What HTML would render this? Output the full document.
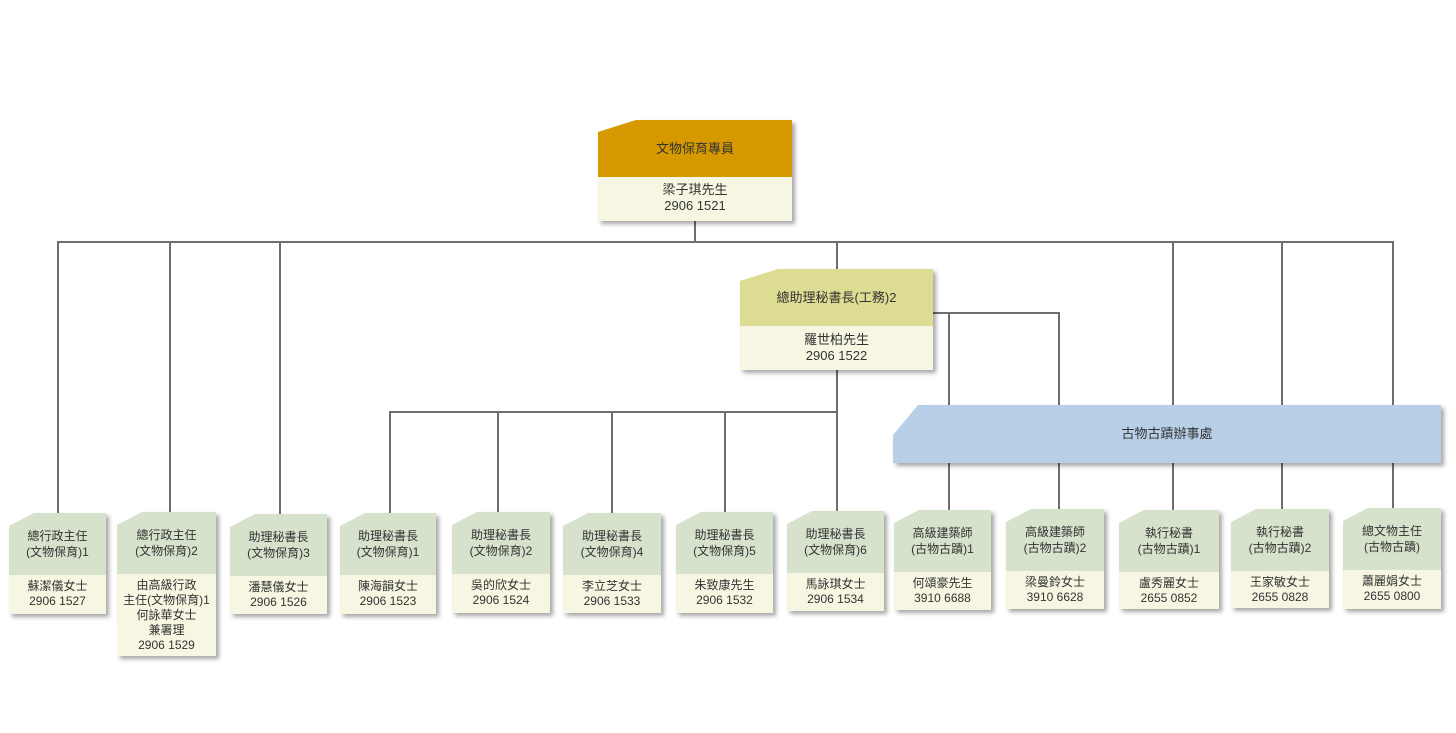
<!DOCTYPE html>
<html><head><meta charset="utf-8"><style>
body{margin:0;width:1456px;height:733px;background:#fff;position:relative;overflow:hidden;font-family:"Liberation Sans","Noto Sans CJK TC",sans-serif;color:#333}
.l{position:absolute;background:#6e6e6e}
.w{position:absolute;filter:drop-shadow(3px 3px 2px rgba(0,0,0,.35))}
.b{position:absolute;left:0;top:0;right:0;bottom:0;clip-path:polygon(25px 0,100% 0,100% 100%,0 100%,0 13px);background:#f6f6e2}
.h{position:absolute;left:0;top:0;right:0;background:#d6e2cc;display:flex;align-items:center;justify-content:center;text-align:center;font-size:12px;line-height:16px}
.t{position:absolute;left:0;right:0;text-align:center;font-size:12px;line-height:15px}
</style></head><body>
<!-- lines -->
<div class="l" style="left:694px;top:220px;width:2px;height:23px"></div>
<div class="l" style="left:57px;top:241px;width:1337px;height:2px"></div>
<div class="l" style="left:57px;top:241px;width:2px;height:272px"></div>
<div class="l" style="left:169px;top:241px;width:2px;height:271px"></div>
<div class="l" style="left:279px;top:241px;width:2px;height:273px"></div>
<div class="l" style="left:836px;top:241px;width:2px;height:30px"></div>
<div class="l" style="left:1172px;top:241px;width:2px;height:270px"></div>
<div class="l" style="left:1281px;top:241px;width:2px;height:270px"></div>
<div class="l" style="left:1392px;top:241px;width:2px;height:269px"></div>
<div class="l" style="left:836px;top:370px;width:2px;height:142px"></div>
<div class="l" style="left:389px;top:411px;width:449px;height:2px"></div>
<div class="l" style="left:389px;top:411px;width:2px;height:103px"></div>
<div class="l" style="left:497px;top:411px;width:2px;height:102px"></div>
<div class="l" style="left:611px;top:411px;width:2px;height:103px"></div>
<div class="l" style="left:724px;top:411px;width:2px;height:102px"></div>
<div class="l" style="left:930px;top:312px;width:130px;height:2px"></div>
<div class="l" style="left:948px;top:312px;width:2px;height:200px"></div>
<div class="l" style="left:1058px;top:312px;width:2px;height:198px"></div>

<!-- top -->
<div class="w" style="left:598px;top:120px;width:194px;height:101px"><div class="b" style="clip-path:polygon(38px 0,100% 0,100% 100%,0 100%,0 12px)"><div class="h" style="height:57px;background:#d69a00;font-size:13px">文物保育專員</div><div class="t" style="top:62px;font-size:13px;line-height:16px">梁子琪先生<br>2906 1521</div></div></div>
<!-- second -->
<div class="w" style="left:740px;top:269px;width:193px;height:101px"><div class="b" style="clip-path:polygon(38px 0,100% 0,100% 100%,0 100%,0 12px)"><div class="h" style="height:57px;background:#dcdc92;font-size:13px">總助理秘書長(工務)2</div><div class="t" style="top:63px;font-size:13px;line-height:16px">羅世柏先生<br>2906 1522</div></div></div>
<!-- blue bar -->
<div class="w" style="left:893px;top:405px;width:548px;height:58px"><div class="b" style="background:#b8cfe8;clip-path:polygon(25px 0,100% 0,100% 100%,0 100%,0 30px)"><div class="t" style="top:21px;font-size:13px">古物古蹟辦事處</div></div></div>

<div class="w" style="left:9px;top:513px;width:97px;height:101px"><div class="b"><div class="h" style="height:62px">總行政主任<br>(文物保育)1</div><div class="t" style="top:66px">蘇潔儀女士<br>2906 1527</div></div></div>
<div class="w" style="left:117px;top:512px;width:99px;height:144px"><div class="b"><div class="h" style="height:62px">總行政主任<br>(文物保育)2</div><div class="t" style="top:66px">由高級行政<br>主任(文物保育)1<br>何詠華女士<br>兼署理<br>2906 1529</div></div></div>
<div class="w" style="left:230px;top:514px;width:97px;height:100px"><div class="b"><div class="h" style="height:62px">助理秘書長<br>(文物保育)3</div><div class="t" style="top:66px">潘慧儀女士<br>2906 1526</div></div></div>
<div class="w" style="left:340px;top:513px;width:96px;height:101px"><div class="b"><div class="h" style="height:62px">助理秘書長<br>(文物保育)1</div><div class="t" style="top:66px">陳海韻女士<br>2906 1523</div></div></div>
<div class="w" style="left:452px;top:512px;width:98px;height:101px"><div class="b"><div class="h" style="height:62px">助理秘書長<br>(文物保育)2</div><div class="t" style="top:66px">吳的欣女士<br>2906 1524</div></div></div>
<div class="w" style="left:563px;top:513px;width:98px;height:100px"><div class="b"><div class="h" style="height:62px">助理秘書長<br>(文物保育)4</div><div class="t" style="top:66px">李立芝女士<br>2906 1533</div></div></div>
<div class="w" style="left:676px;top:512px;width:97px;height:101px"><div class="b"><div class="h" style="height:62px">助理秘書長<br>(文物保育)5</div><div class="t" style="top:66px">朱致康先生<br>2906 1532</div></div></div>
<div class="w" style="left:787px;top:511px;width:97px;height:100px"><div class="b"><div class="h" style="height:62px">助理秘書長<br>(文物保育)6</div><div class="t" style="top:66px">馬詠琪女士<br>2906 1534</div></div></div>
<div class="w" style="left:894px;top:510px;width:97px;height:100px"><div class="b"><div class="h" style="height:62px">高級建築師<br>(古物古蹟)1</div><div class="t" style="top:66px">何頌豪先生<br>3910 6688</div></div></div>
<div class="w" style="left:1006px;top:509px;width:98px;height:100px"><div class="b"><div class="h" style="height:62px">高級建築師<br>(古物古蹟)2</div><div class="t" style="top:66px">梁曼鈴女士<br>3910 6628</div></div></div>
<div class="w" style="left:1119px;top:510px;width:100px;height:99px"><div class="b"><div class="h" style="height:62px">執行秘書<br>(古物古蹟)1</div><div class="t" style="top:66px">盧秀麗女士<br>2655 0852</div></div></div>
<div class="w" style="left:1231px;top:509px;width:98px;height:99px"><div class="b"><div class="h" style="height:62px">執行秘書<br>(古物古蹟)2</div><div class="t" style="top:66px">王家敏女士<br>2655 0828</div></div></div>
<div class="w" style="left:1343px;top:508px;width:98px;height:101px"><div class="b"><div class="h" style="height:62px">總文物主任<br>(古物古蹟)</div><div class="t" style="top:66px">蕭麗娟女士<br>2655 0800</div></div></div>
</body></html>
